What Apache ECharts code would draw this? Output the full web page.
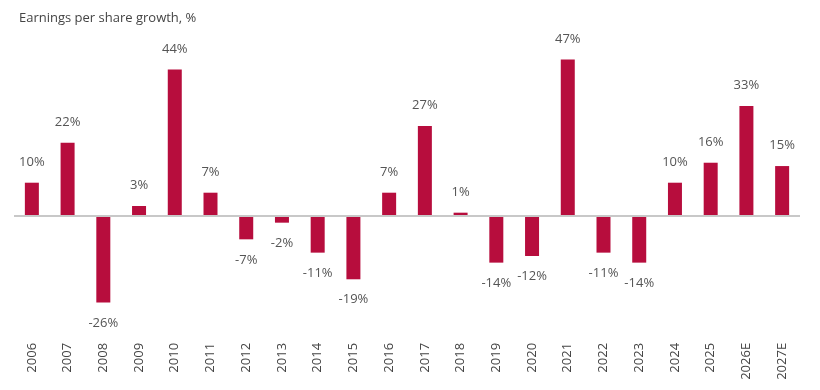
<!DOCTYPE html>
<html><head><meta charset="utf-8">
<script src="https://cdn.jsdelivr.net/npm/echarts@6/dist/echarts.min.js"></script>
<style>html,body{margin:0;padding:0;background:#fff}#c{width:820px;height:390px}</style>
</head><body><div id="c"></div>
<script>
const categories = ['2006','2007','2008','2009','2010','2011','2012','2013','2014','2015','2016','2017','2018','2019','2020','2021','2022','2023','2024','2025','2026E','2027E'];
const values = [10,22,-26,3,44,7,-7,-2,-11,-19,7,27,1,-14,-12,47,-11,-14,10,16,33,15];
const titleText = 'Earnings per share growth, %';

const font = '"Open Sans", "Noto Sans", sans-serif';
const chart = echarts.init(document.getElementById('c'));
chart.setOption({
  animation: false,
  title: { text: titleText, left: 14, top: 7, textStyle: { fontFamily: font, fontSize: 13, fontWeight: 'normal', color: '#444' } },
  grid: { left: 14, right: 20, top: 49.5, bottom: 54.1 },
  xAxis: {
    type: 'category', data: categories,
    axisLine: { show: false, onZero: false }, axisTick: { show: false },
    axisLabel: { rotate: 90, margin: 7, fontFamily: font, fontSize: 13, color: '#444' }
  },
  yAxis: { type: 'value', min: -36, max: 50, show: false, splitLine: { show: false } },
  series: [{
    type: 'bar', barWidth: 14,
    itemStyle: { color: '#b70d3d' },
    data: values.map(v => ({ value: v, label: { position: v < 0 ? 'bottom' : 'top' } })),
    label: { show: true, distance: 14, formatter: p => p.value + '%', fontFamily: font, fontSize: 13, color: '#555' },
    markLine: { silent: true, symbol: 'none', label: { show: false }, lineStyle: { color: '#c8c8c8', width: 2, type: 'solid' }, data: [{ yAxis: 0 }] },
    z: 3
  }]
});
</script></body></html>
